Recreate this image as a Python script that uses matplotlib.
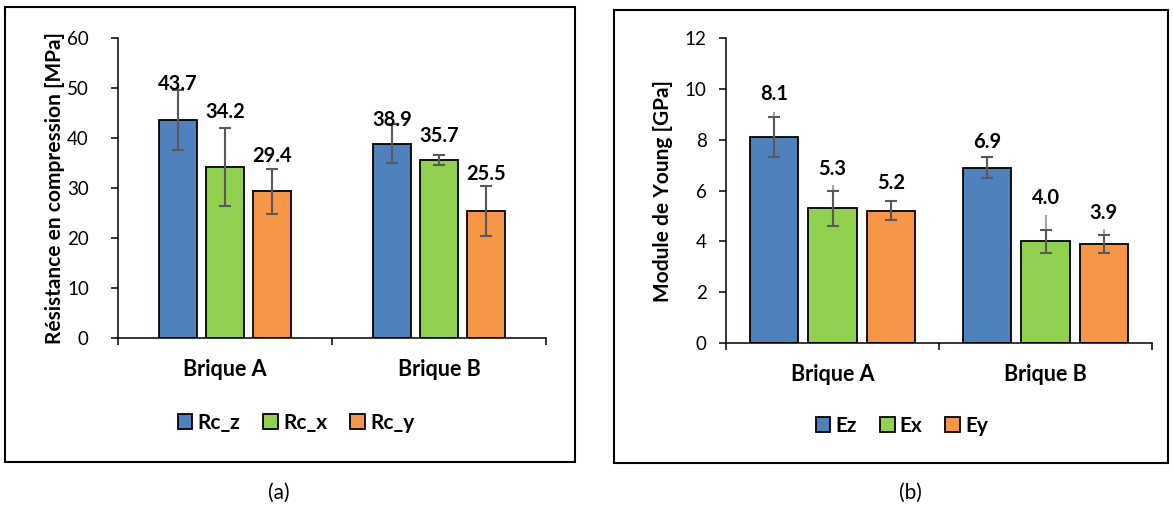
import numpy as np
import matplotlib
matplotlib.use("Agg")
from matplotlib import pyplot as plt
from matplotlib.patches import Rectangle, Patch

plt.rcParams["font.family"] = ["Lato", "DejaVu Sans"]

bricks = ["Brique A", "Brique B"]
colours = ["#4f81bd", "#92d050", "#f79646"]

# (a) compressive strength
rc_names = ["Rc_z", "Rc_x", "Rc_y"]
rc_vals = [[43.7, 38.9], [34.2, 35.7], [29.4, 25.5]]
rc_errs = [[6.0, 3.9], [7.9, 1.0], [4.5, 5.0]]
rc_light = [[50.5, 42.8], [42.3, 36.7], [33.9, 30.5]]   # upper end of the grey bars
rc_lab_y = [[50.7, 43.7], [45.1, 40.3], [36.3, 32.7]]

# (b) Young's modulus
e_names = ["Ez", "Ex", "Ey"]
e_vals = [[8.1, 6.9], [5.3, 4.0], [5.2, 3.9]]
e_errs = [[0.8, 0.4], [0.7, 0.44], [0.37, 0.35]]
e_light = [[9.1, 7.3], [6.2, 5.04], [5.63, 4.48]]
e_lab_y = [[9.78, 7.91], [6.86, 5.70], [6.29, 5.11]]

W, H = 1173, 508
fig = plt.figure(figsize=(W/100, H/100), dpi=100)

def px_axes(x0, x1, y0, y1):
    return fig.add_axes([x0/W, 1 - y1/H, (x1-x0)/W, (y1-y0)/H])

def draw(ax, names, vals, errs, light, lab_y, ymax, ystep, ylabel, step, width, tpad):
    x = np.arange(len(bricks)) + 0.5
    for i, name in enumerate(names):
        xi = x + (i-1)*step
        v = np.array(vals[i])
        ax.bar(xi, v, width, color=colours[i], edgecolor="black", linewidth=1.3,
               label=name, zorder=2)
        up = np.array(light[i]) - v
        ax.errorbar(xi, v, yerr=[np.zeros_like(v), up], fmt="none",
                    ecolor="#a6a6a6", elinewidth=1.5, capsize=0, zorder=3)
        ax.errorbar(xi, v, yerr=errs[i], fmt="none", ecolor="#595959",
                    elinewidth=1.5, capsize=4, capthick=1.5, zorder=4)
        for xx, vv, yy in zip(xi, v, lab_y[i]):
            ax.text(xx, yy, f"{vv:.1f}", ha="center", va="center",
                    fontsize=14.5, fontweight="bold", zorder=5)
    ax.set_xlim(0, len(bricks))
    ax.set_ylim(0, ymax)
    ax.set_yticks(np.arange(0, ymax+ystep/2, ystep))
    ax.set_xticks(np.arange(len(bricks)+1))
    ax.set_xticklabels([])
    ax.set_xticks(x, minor=True)
    ax.set_xticklabels(bricks, minor=True, fontsize=15.5, fontweight="bold")
    ax.tick_params(axis="x", which="minor", length=0, pad=15)
    ax.tick_params(axis="x", which="major", length=5, width=1.1, direction="out")
    ax.tick_params(axis="y", length=5, width=1.1, labelsize=13.5, pad=tpad)
    for s in ["top", "right"]:
        ax.spines[s].set_visible(False)
    for s in ["left", "bottom"]:
        ax.spines[s].set_linewidth(1.1)
    ax.set_ylabel(ylabel, fontsize=15, fontweight="bold")
    ax.yaxis.set_label_coords(-0.124, 0.5)

ax1 = px_axes(118, 546, 38, 338)
draw(ax1, rc_names, rc_vals, rc_errs, rc_light, rc_lab_y, 60, 10,
     "Résistance en compression [MPa]", 0.22, 0.178, 16)
ax2 = px_axes(726, 1152, 38, 343)
draw(ax2, e_names, e_vals, e_errs, e_light, e_lab_y, 12, 2,
     "Module de Young [GPa]", 0.274, 0.227, 9)

for ax, names, cx, cy in [(ax1, rc_names, 296, 423), (ax2, e_names, 902, 426)]:
    handles = [Patch(facecolor=c, edgecolor="black", linewidth=1.3) for c in colours]
    fig.legend(handles, names, loc="center", bbox_to_anchor=(cx/W, 1 - cy/H),
               ncol=3, frameon=False, handlelength=0.7, handleheight=0.7,
               handletextpad=0.25, columnspacing=1.1,
               prop={"size": 15, "weight": "bold"})

# panel frames
for x0, y0, x1, y1 in [(5, 7, 575, 462), (614, 10, 1168, 463)]:
    fig.patches.append(Rectangle((x0/W, 1 - y1/H), (x1-x0)/W, (y1-y0)/H,
                                 transform=fig.transFigure, fill=False,
                                 edgecolor="black", linewidth=1.5))

fig.text(279/W, 1 - 493/H, "(a)", ha="center", va="center", fontsize=15)
fig.text(910/W, 1 - 493/H, "(b)", ha="center", va="center", fontsize=15)

plt.savefig("out.png", dpi=100)
